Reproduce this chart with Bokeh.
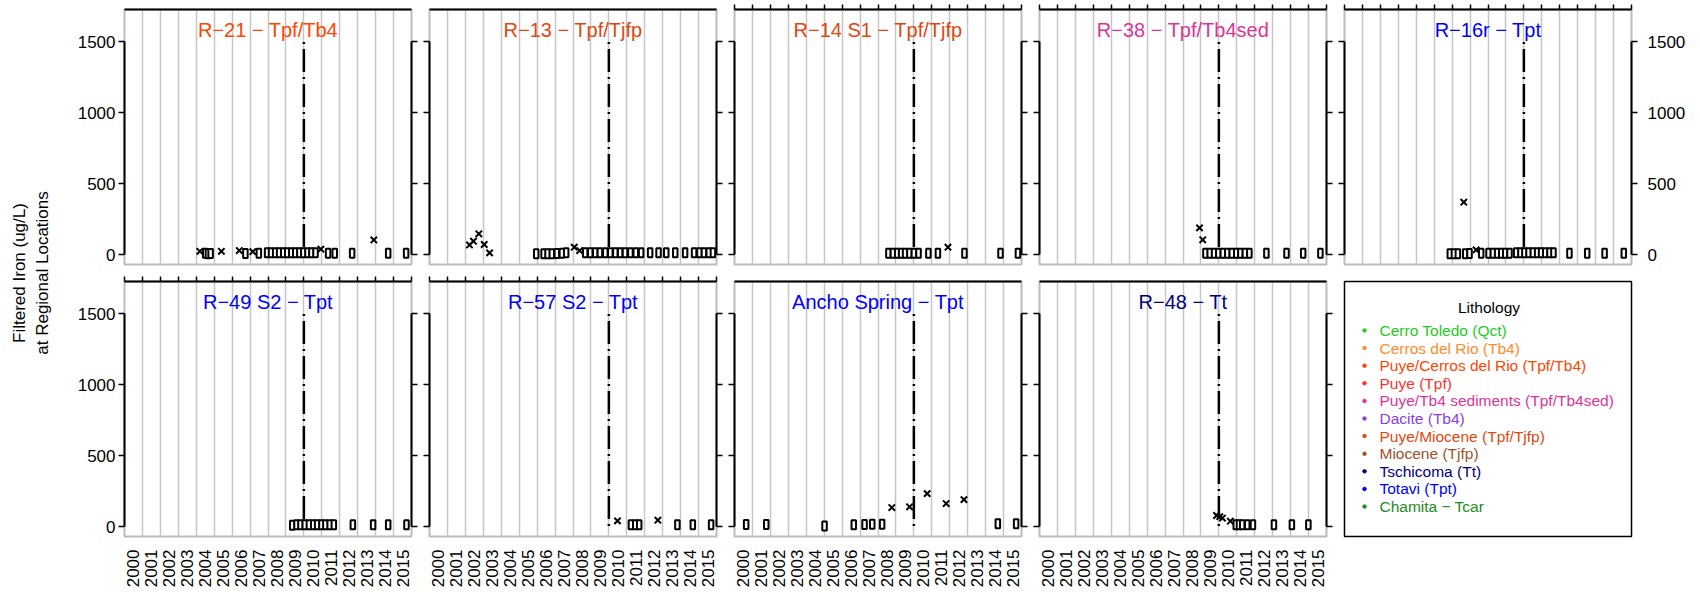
from math import pi
from bokeh.plotting import figure
from bokeh.models import (Range1d, LinearAxis, FixedTicker, Label, ColumnDataSource, Grid,
                          CustomLabelingPolicy)
from bokeh.layouts import row, column
from bokeh.embed import file_html
from bokeh.resources import INLINE
from bokeh.core.properties import value

FONT = "Liberation Sans"

# ---------------- data ----------------
years = list(range(2000, 2016))
year_labels = [str(y) for y in years]
y_ticks = [0, 500, 1000, 1500]
change_year = 2010
line_top = 1500
y_title = ["Filtered Iron (ug/L)", "at Regional Locations"]

well_titles = ["R−21 − Tpf/Tb4", "R−13 − Tpf/Tjfp", "R−14 S1 − Tpf/Tjfp", "R−38 − Tpf/Tb4sed",
               "R−16r − Tpt", "R−49 S2 − Tpt", "R−57 S2 − Tpt", "Ancho Spring − Tpt", "R−48 − Tt"]
well_colors = ["#FF4500", "#E0480F", "#E0480F", "#DD3399", "#0000FF",
               "#0000FF", "#0000FF", "#0000FF", "#000080"]

# detected (x) and non-detect (0) samples, decimal year / ug/L
r21_det_t = [2004.2, 2005.4, 2006.4, 2007.15, 2010.95, 2013.9]
r21_det_v = [25, 25, 30, 22, 40, 105]
r21_nd_t = [2004.5, 2004.65, 2004.8, 2006.74, 2007.49, 2007.95, 2008.17, 2008.4, 2008.62, 2008.85,
            2009.07, 2009.3, 2009.52, 2009.75, 2009.97, 2010.2, 2010.42, 2010.65, 2011.35, 2011.72,
            2012.69, 2014.7, 2015.7]
r21_nd_v = [12, 8, 10, 10, 12, 14, 14, 14, 14, 14, 14, 14, 14, 14, 14, 14, 14, 14, 12, 12, 12, 12, 12]

r13_det_t = [2002.23, 2002.45, 2002.75, 2003.05, 2003.35, 2008.07, 2008.37]
r13_det_v = [70, 96, 148, 73, 14, 54, 30]
r13_nd_t = [2005.95, 2006.36, 2006.58, 2006.82, 2007.1, 2007.38, 2007.62, 2008.68, 2008.96, 2009.24,
            2009.5, 2009.8, 2010.08, 2010.36, 2010.63, 2010.9, 2011.2, 2011.5, 2011.8, 2012.3,
            2012.77, 2013.2, 2013.7, 2014.25, 2014.75, 2015.05, 2015.3, 2015.57, 2015.8]
r13_nd_v = [8, 8, 8, 8, 10, 12, 14, 14, 14, 14, 14, 14, 14, 14, 14, 14, 14, 14, 14, 14,
            14, 14, 14, 14, 14, 14, 14, 14, 14]

r14_det_t = [2011.9]
r14_det_v = [54]
r14_nd_t = [2008.58, 2008.83, 2009.07, 2009.29, 2009.51, 2009.75, 2010.0, 2010.26, 2010.81, 2011.34,
            2012.82, 2014.83, 2015.8]
r14_nd_v = [12, 12, 12, 12, 12, 12, 12, 12, 12, 12, 12, 12, 12]

r38_det_t = [2008.92, 2009.1]
r38_det_v = [190, 106]
r38_nd_t = [2009.25, 2009.49, 2009.73, 2009.97, 2010.22, 2010.47, 2010.72, 2010.97, 2011.2, 2011.45,
            2011.7, 2012.65, 2013.77, 2014.7, 2015.66]
r38_nd_v = [12, 12, 12, 12, 12, 12, 12, 12, 12, 12, 12, 12, 12, 12, 12]

r16_det_t = [2006.65, 2007.34]
r16_det_v = [371, 35]
r16_nd_t = [2005.87, 2006.1, 2006.32, 2006.73, 2006.97, 2007.62, 2008.03, 2008.27, 2008.51, 2008.74,
            2008.96, 2009.2, 2009.57, 2009.81, 2010.03, 2010.26, 2010.5, 2010.74, 2010.96, 2011.19,
            2011.43, 2011.65, 2012.54, 2013.53, 2014.5, 2015.57]
r16_nd_v = [8, 8, 8, 8, 10, 12, 12, 12, 12, 12, 12, 12, 14, 14, 14, 14, 14, 14, 14, 14,
            14, 14, 12, 12, 12, 12]

r49_det_t = []
r49_det_v = []
r49_nd_t = [2009.35, 2009.59, 2009.81, 2010.05, 2010.28, 2010.52, 2010.74, 2010.98, 2011.2, 2011.44,
            2011.67, 2012.73, 2013.86, 2014.7, 2015.72]
r49_nd_v = [12, 14, 14, 14, 14, 14, 14, 14, 14, 14, 14, 14, 14, 14, 14]

r57_det_t = [2010.48, 2012.73]
r57_det_v = [42, 47]
r57_nd_t = [2011.23, 2011.47, 2011.69, 2013.82, 2014.68, 2015.7]
r57_nd_v = [14, 14, 14, 14, 14, 14]

ancho_det_t = [2008.77, 2009.76, 2010.74, 2011.8, 2012.79]
ancho_det_v = [136, 141, 234, 164, 192]
ancho_nd_t = [2000.65, 2001.77, 2005.02, 2006.65, 2007.25, 2007.68, 2008.23, 2014.68, 2015.7]
ancho_nd_v = [16, 16, 6, 14, 16, 18, 18, 22, 22]

r48_det_t = [2009.87, 2010.05, 2010.2, 2010.64]
r48_det_v = [80, 72, 62, 40]
r48_nd_t = [2010.94, 2011.12, 2011.3, 2011.58, 2011.9, 2013.07, 2014.07, 2014.99]
r48_nd_v = [14, 14, 14, 14, 14, 14, 14, 14]

lith_names = ["Cerro Toledo (Qct)", "Cerros del Rio (Tb4)", "Puye/Cerros del Rio (Tpf/Tb4)",
              "Puye (Tpf)", "Puye/Tb4 sediments (Tpf/Tb4sed)", "Dacite (Tb4)",
              "Puye/Miocene (Tpf/Tjfp)", "Miocene (Tjfp)", "Tschicoma (Tt)", "Totavi (Tpt)",
              "Chamita − Tcar"]
lith_colors = ["#22CC22", "#FF8C2A", "#FF4500", "#FF3030", "#DD3399", "#8A3FDD",
               "#E0480F", "#A0522D", "#000080", "#0000FF", "#228B22"]

wells = [
    (r21_det_t, r21_det_v, r21_nd_t, r21_nd_v),
    (r13_det_t, r13_det_v, r13_nd_t, r13_nd_v),
    (r14_det_t, r14_det_v, r14_nd_t, r14_nd_v),
    (r38_det_t, r38_det_v, r38_nd_t, r38_nd_v),
    (r16_det_t, r16_det_v, r16_nd_t, r16_nd_v),
    (r49_det_t, r49_det_v, r49_nd_t, r49_nd_v),
    (r57_det_t, r57_det_v, r57_nd_t, r57_nd_v),
    (ancho_det_t, ancho_det_v, ancho_nd_t, ancho_nd_v),
    (r48_det_t, r48_det_v, r48_nd_t, r48_nd_v),
]

# ---------------- layout constants ----------------
FW, FH = 287, 255
GRID_COLOR = "#c6c6c6"
OUTLINE_COLOR = "#bcbcbc"
TICK_FONT = "17px"
TOTAL_H = 586


def hidden_labels(ax, ticks):
    ax.major_label_overrides = {t: "" for t in ticks}
    ax.major_label_text_font_size = "1px"
    ax.major_label_standoff = 0
    ax.major_label_policy = CustomLabelingPolicy(
        code="for (const i of [...indices]) { indices.unset(i) } return indices")


def no_default_grid(p):
    for g in p.grid:
        g.visible = False


def make_panel(i):
    r, c = divmod(i, 5)
    det_t, det_v, nd_t, nd_v = wells[i]
    p = figure(frame_width=FW, frame_height=FH,
               x_range=Range1d(2000, 2016), y_range=Range1d(-68, 1729),
               x_axis_location=None, y_axis_location=None,
               toolbar_location=None, output_backend="svg",
               min_border_left=56 if c == 0 else 9,
               min_border_right=56 if c == 4 else 9,
               min_border_top=9,
               min_border_bottom=8 if r == 0 else 50,
               outline_line_color=OUTLINE_COLOR, outline_line_width=2,
               background_fill_color="white", border_fill_color="white")
    no_default_grid(p)
    p.add_layout(Grid(dimension=0, ticker=FixedTicker(ticks=years[1:]),
                      grid_line_color=GRID_COLOR, grid_line_width=1.5))

    # top axis line
    tick_top = (r == 0 and c >= 2) or (r == 1 and c < 2)
    top_ticks = years + [2016]
    top = LinearAxis(ticker=FixedTicker(ticks=top_ticks), bounds=(2000, 2016),
                     axis_line_color="black", axis_line_width=2,
                     major_tick_in=0, major_tick_out=5 if tick_top else 0,
                     major_tick_line_width=1.5, minor_tick_line_color=None)
    hidden_labels(top, top_ticks)
    p.add_layout(top, "above")

    # left / right y axes (ticks on both sides)
    for side in ("left", "right"):
        ax = LinearAxis(ticker=FixedTicker(ticks=y_ticks), bounds=(0, 1500),
                        axis_line_color="black", axis_line_width=2,
                        major_tick_in=0, major_tick_out=6, major_tick_line_width=1.5,
                        minor_tick_line_color=None,
                        major_label_text_font=FONT, major_label_text_font_size=TICK_FONT,
                        major_label_text_color="black")
        show = (side == "left" and c == 0) or (side == "right" and c == 4 and r == 0)
        if show:
            ax.major_label_standoff = 3 if side == "left" else 10
        else:
            hidden_labels(ax, y_ticks)
        p.add_layout(ax, side)

    # bottom year labels for second row
    if r == 1:
        mids = [y + 0.5 for y in years]
        bx = LinearAxis(ticker=FixedTicker(ticks=mids),
                        major_label_overrides={m: lab for m, lab in zip(mids, year_labels)},
                        major_label_orientation=pi / 2,
                        axis_line_color=None, major_tick_line_color=None,
                        minor_tick_line_color=None, major_label_standoff=7,
                        major_label_text_font=FONT, major_label_text_font_size=TICK_FONT,
                        major_label_text_color="black")
        p.add_layout(bx, "below")

    # change line
    p.segment(x0=[change_year], y0=[line_top], x1=[change_year], y1=[0],
              line_color="black", line_width=2.5, line_dash="2 5 23 5")

    # data
    p.rect(x=nd_t, y=nd_v, width=4.5, height=9, width_units="screen", height_units="screen",
           fill_color="white", line_color="black", line_width=2)
    if det_t:
        p.scatter(x=det_t, y=det_v, marker="x", size=9, line_color="black", line_width=2)

    p.add_layout(Label(x=2008, y=1588, text=well_titles[i], text_align="center",
                       text_baseline="middle", text_font=FONT, text_font_size="20px",
                       text_color=well_colors[i]))
    return p


panels = [make_panel(i) for i in range(9)]

# ---------------- legend panel ----------------
leg = figure(frame_width=FW, frame_height=FH,
             x_range=Range1d(0, FW), y_range=Range1d(11.7, -2.78),
             x_axis_location=None, y_axis_location=None,
             toolbar_location=None, output_backend="svg",
             min_border_left=9, min_border_right=56, min_border_top=9, min_border_bottom=50,
             outline_line_color="black", outline_line_width=1.5,
             background_fill_color="white", border_fill_color="white")
no_default_grid(leg)
leg_src = ColumnDataSource(dict(idx=list(range(len(lith_names))), name=lith_names, color=lith_colors))
leg.scatter(x=20, y="idx", source=leg_src, size=3.5, color="color")
leg.text(x=35, y="idx", text="name", source=leg_src, text_color="color",
         text_font=value(FONT), text_font_size="15.5px", text_baseline="middle", text_align="left")
leg.add_layout(Label(x=144.5, y=-1.32, text="Lithology", text_align="center", text_baseline="middle",
                     text_font=FONT, text_font_size="15.5px", text_color="black"))

# ---------------- y-axis title ----------------
ylab = figure(width=68, height=TOTAL_H, x_range=Range1d(0, 68), y_range=Range1d(TOTAL_H, 0),
              x_axis_location=None, y_axis_location=None, min_border=0,
              toolbar_location=None, output_backend="svg", outline_line_color=None,
              background_fill_color="white", border_fill_color="white")
no_default_grid(ylab)
for xpos, txt in zip([18.5, 41.5], y_title):
    ylab.add_layout(Label(x=xpos, y=272.5, text=txt, angle=pi / 2, text_align="center",
                          text_baseline="middle", text_font=FONT, text_font_size="17px",
                          text_color="black"))

layout = row(ylab, column(row(*panels[:5]), row(*panels[5:], leg)))

open("out.html", "w").write(file_html(layout, INLINE))
